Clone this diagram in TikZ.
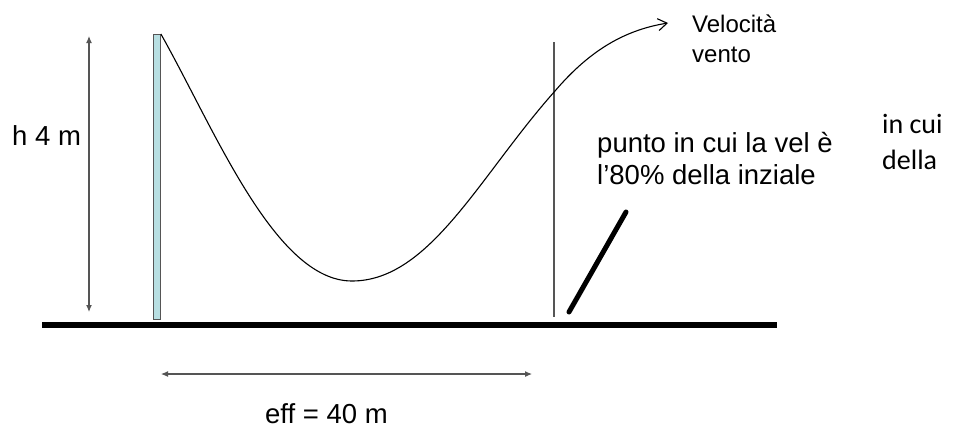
\documentclass[tikz,border=0pt]{standalone}
\usepackage{fontspec}
\setmainfont{Liberation Sans}
\newfontfamily\calfont{Carlito}
\usetikzlibrary{arrows.meta}
\definecolor{polefill}{HTML}{B8DFE2}
\definecolor{linegray}{HTML}{555555}
\tikzset{
  lbl/.style={inner sep=0pt, anchor=base west, font=\fontsize{27.5}{32}\selectfont, align=left},
  dim/.style={draw=linegray, line width=1.1pt, {Latex[length=7pt,width=6pt]}-{Latex[length=7pt,width=6pt]}},
}
\begin{document}
\begin{tikzpicture}[x=1pt,y=-1pt]
\useasboundingbox[fill=white] (0,0) rectangle (960,429);
% ground
\draw[line width=6pt] (42,325) coordinate (g1) -- (777,325) coordinate (g2);
% pole
\node[draw=linegray, fill=polefill, line width=0.8pt, minimum width=7pt, minimum height=285pt, inner sep=0pt, anchor=north] (pole) at (157,34) {};
% height dimension
\coordinate (ht) at (89,36);
\coordinate (hb) at (89,312);
\draw[dim] (ht) -- (hb);
\node[lbl] (h) at (12,145) {h 4 m};
% width dimension
\coordinate (wl) at (161,374);
\coordinate (wr) at (532,374);
\draw[dim] (wl) -- (wr);
\node[lbl] (eff) at (265,423) {eff = 40 m};
% vertical line at 80% point
\coordinate (vt) at (554,42);
\coordinate (vb) at (554,317);
\draw[linegray, line width=1.1pt] (vt) -- (vb);
% wind profile curve
\coordinate (c0) at (pole.north east);
\coordinate (cm) at (352,281);
\coordinate (cx) at (555,91);
\coordinate (ce) at (668,23);
\draw[line width=1.1pt, -{Straight Barb[length=9pt,width=12pt]}]
  (c0) .. controls (215,130) and (275,281) .. (cm)
       .. controls (430,281) and (480,175) .. (cx)
       .. controls (590,50) and (625,30) .. (ce);
% slash
\coordinate (s1) at (569,312);
\coordinate (s2) at (626,212);
\draw[line width=5pt, line cap=round] (s1) -- (s2);
% labels
\node[lbl, font=\fontsize{24}{30}\selectfont] (vel) at (692,62) {Velocità\\vento};
\node[lbl] (punto) at (597,184) {punto in cui la vel è\\l’80\% della inziale};
\node[lbl, font=\calfont\fontsize{28}{36}\selectfont] (incui) at (882,169) {in cui\\della};
\end{tikzpicture}
\end{document}
